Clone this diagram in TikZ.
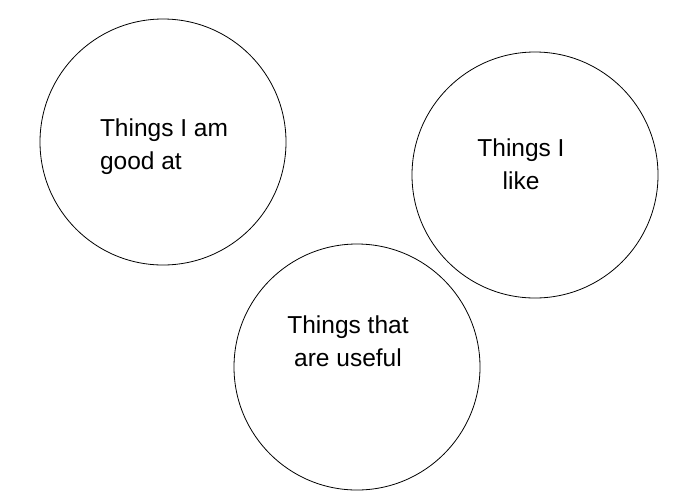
\documentclass[tikz,border=0pt]{standalone}
\usepackage{fontspec}
\setmainfont{Liberation Sans}
\begin{document}
\begin{tikzpicture}[x=1pt,y=-1pt,
  bubble/.style={draw, line width=0.8pt, circle, minimum size=246pt, inner sep=0pt},
  lbl/.style={align=center, font=\fontsize{24.5}{33}\selectfont}]
\useasboundingbox (0,0) rectangle (700,496);

\node[bubble] (good) at (163,142) {};
\node[bubble] (like) at (535,175) {};
\node[bubble] (useful) at (357,367) {};

\node[lbl, align=left] (goodtxt) at (164,147) {Things I am\\good at};
\node[lbl] (liketxt) at (521,164) {Things I\\like};
\node[lbl] (usefultxt) at (348,341) {Things that\\are useful};

\end{tikzpicture}
\end{document}
